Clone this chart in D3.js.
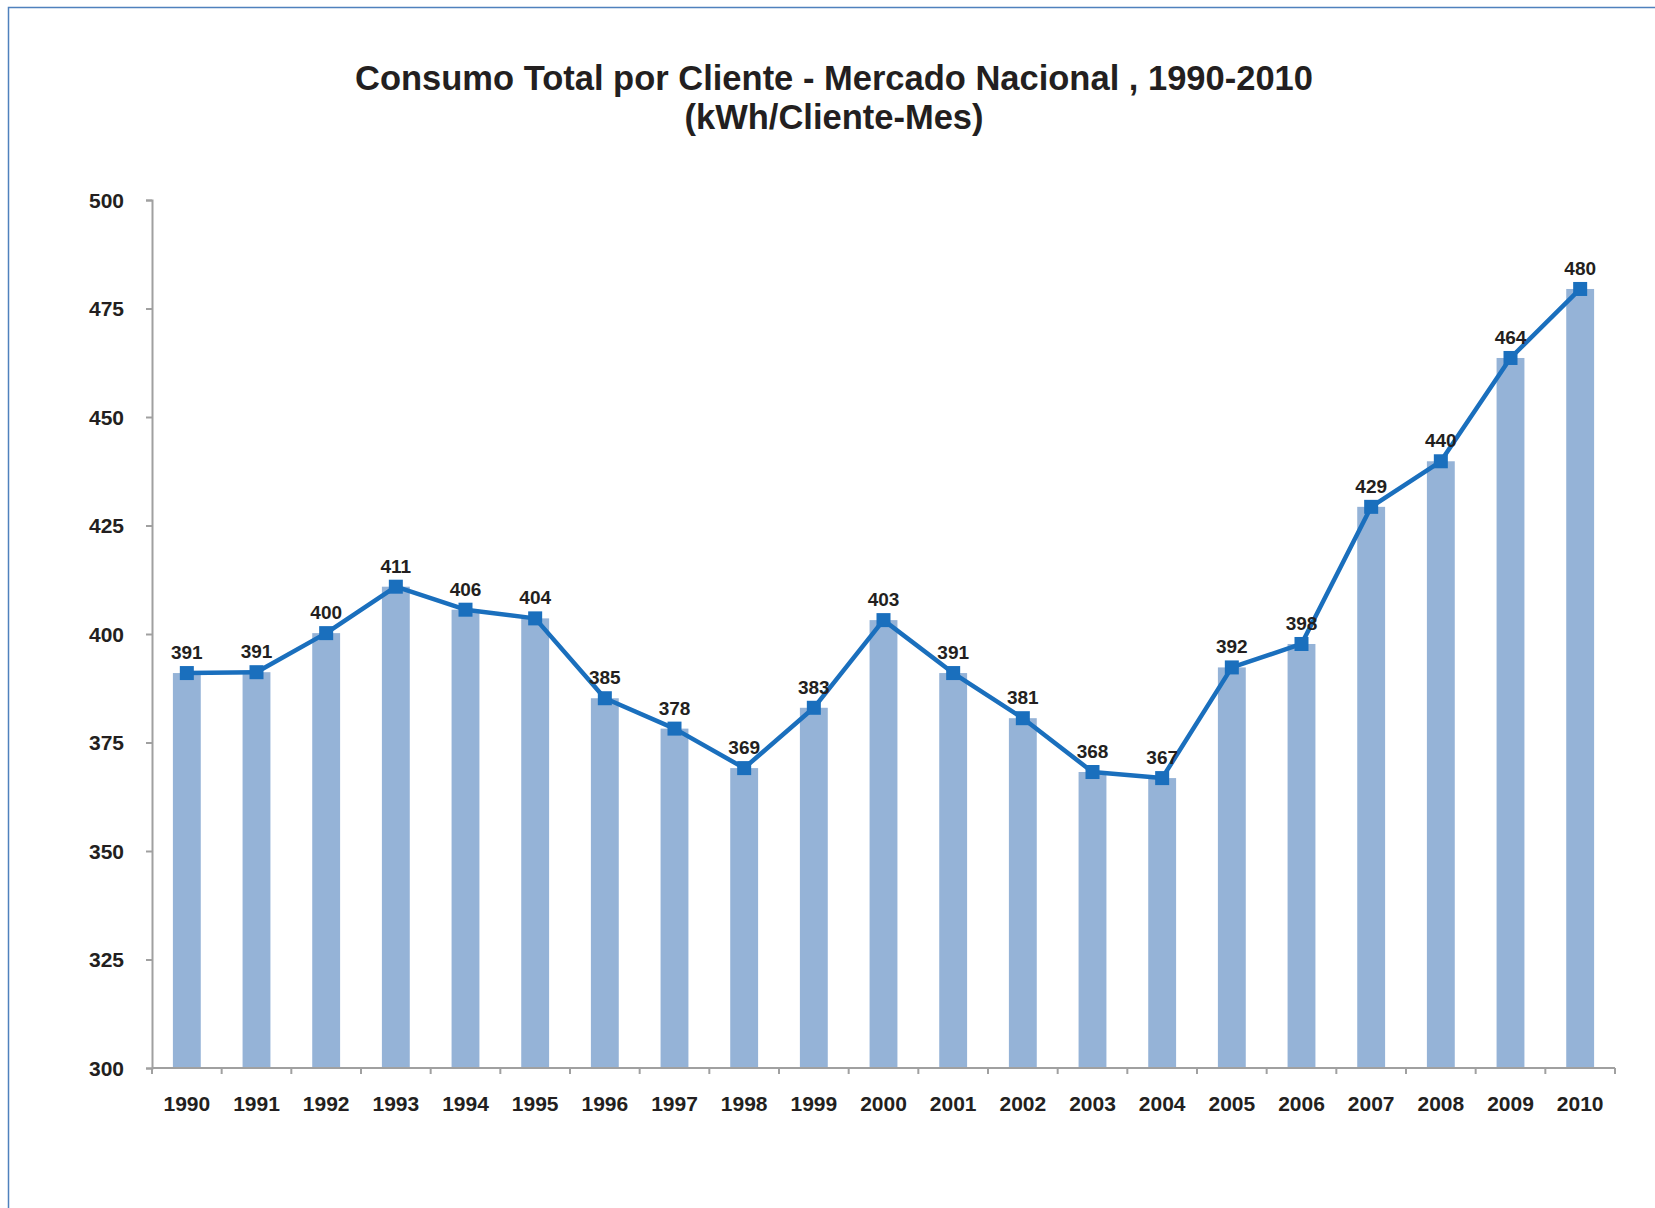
<!DOCTYPE html>
<html lang="en">
<head>
    <meta charset="UTF-8">
    <title>Consumo Total por Cliente</title>
    <script src="https://d3js.org/d3.v7.min.js"></script>
    <style>
        body { margin: 0; background: #fff; }
        svg { display: block; font-family: "Liberation Sans", Arial, sans-serif; }
        .title { font-size: 34.5px; font-weight: bold; fill: #231f20; }
        .axis text { font-size: 21px; font-weight: bold; fill: #231f20; font-family: "Liberation Sans", Arial, sans-serif; }
        .axis path, .axis line { stroke: #a0a0a0; stroke-width: 2px; }
        .bar { fill: #95b3d7; }
        .label { font-size: 19px; font-weight: bold; fill: #231f20; }
    </style>
</head>
<body>
    <svg width="1655" height="1208"></svg>
    <script>
        const years = ["1990", "1991", "1992", "1993", "1994", "1995", "1996", "1997", "1998", "1999", "2000",
                       "2001", "2002", "2003", "2004", "2005", "2006", "2007", "2008", "2009", "2010"];
        // kWh/Cliente-Mes (labels show them rounded)
        const consumo = [391, 391.2, 400.2, 410.9, 405.6, 403.6, 385.2, 378.2, 369.1, 383, 403.2,
                         391, 380.6, 368.2, 366.8, 392.3, 397.7, 429.3, 439.8, 463.6, 479.5];
        const yTicks = [300, 325, 350, 375, 400, 425, 450, 475, 500];

        const svg = d3.select("svg"),
              margin = {top: 200, right: 40, bottom: 140, left: 152},
              width = 1615 - margin.left,
              height = 1068 - margin.top;

        // blue outer frame (right/bottom edges run off the picture)
        svg.append("rect")
           .attr("x", 8.5).attr("y", 7.5)
           .attr("width", 1700).attr("height", 1300)
           .attr("fill", "none")
           .attr("stroke", "#4f81bd")
           .attr("stroke-width", 1.5);

        const title = svg.append("text").attr("class", "title").attr("text-anchor", "middle");
        title.append("tspan").attr("x", 834).attr("y", 90).text("Consumo Total por Cliente - Mercado Nacional , 1990-2010");
        title.append("tspan").attr("x", 834).attr("y", 129).text("(kWh/Cliente-Mes)");

        const g = svg.append("g").attr("transform", `translate(${margin.left},${margin.top})`);

        const x = d3.scaleBand()
                    .domain(years)
                    .range([0, width])
                    .paddingInner(0.6)
                    .paddingOuter(0.3);

        const xb = d3.scaleBand().domain(years).range([0, width]);

        const y = d3.scaleLinear()
                    .domain([300, 500])
                    .range([height, 0]);

        g.selectAll(".bar")
         .data(consumo)
         .enter().append("rect")
         .attr("class", "bar")
         .attr("x", (d, i) => x(years[i]))
         .attr("y", d => y(d))
         .attr("width", x.bandwidth())
         .attr("height", d => height - y(d));

        // x axis with ticks on band boundaries
        const xAxis = g.append("g")
         .attr("class", "axis axis--x")
         .attr("transform", `translate(0,${height})`);
        xAxis.append("line").attr("x1", 0).attr("x2", width).attr("y1", 0).attr("y2", 0);
        xAxis.selectAll(".tk")
         .data(years.concat(["end"]))
         .enter().append("line")
         .attr("x1", (d, i) => i * xb.step())
         .attr("x2", (d, i) => i * xb.step())
         .attr("y1", 0).attr("y2", 6);
        xAxis.selectAll(".xl")
         .data(years)
         .enter().append("text")
         .attr("x", d => xb(d) + xb.bandwidth() / 2)
         .attr("y", 43)
         .attr("text-anchor", "middle")
         .text(d => d);

        g.append("g")
         .attr("class", "axis axis--y")
         .call(d3.axisLeft(y).tickValues(yTicks).tickSize(6).tickPadding(22).tickSizeOuter(6))
         .selectAll("text").attr("dy", "0.35em");

        const cx = d => xb(d) + xb.bandwidth() / 2;

        const line = d3.line()
                       .x((d, i) => cx(years[i]))
                       .y(d => y(d));

        g.append("path")
         .datum(consumo)
         .attr("fill", "none")
         .attr("stroke", "#1a6fbd")
         .attr("stroke-width", 4.5)
         .attr("stroke-linejoin", "round")
         .attr("d", line);

        g.selectAll(".marker")
         .data(consumo)
         .enter().append("rect")
         .attr("class", "marker")
         .attr("x", (d, i) => cx(years[i]) - 7)
         .attr("y", d => y(d) - 7)
         .attr("width", 14)
         .attr("height", 14)
         .attr("fill", "#1a6fbd");

        g.selectAll(".label")
         .data(consumo)
         .enter().append("text")
         .attr("class", "label")
         .attr("x", (d, i) => cx(years[i]))
         .attr("y", d => y(d) - 14)
         .attr("text-anchor", "middle")
         .text(d => d3.format(".0f")(d));
    </script>
</body>
</html>
